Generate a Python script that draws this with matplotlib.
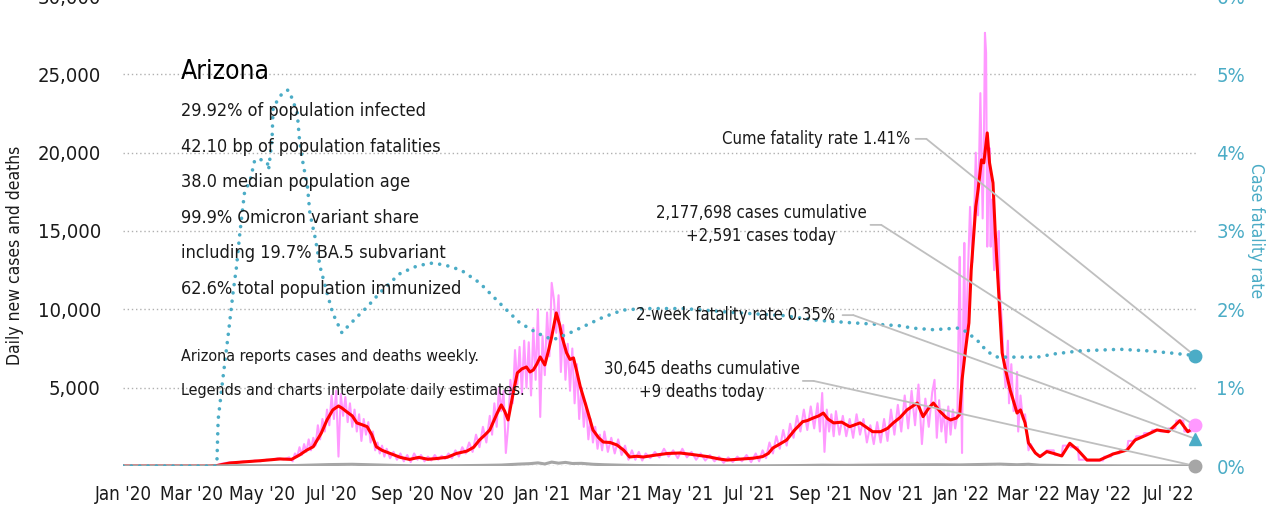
import numpy as np
import matplotlib
matplotlib.use('Agg')
from matplotlib import pyplot as plt
from matplotlib import dates as mdates
from matplotlib import font_manager

# ---- data (day 0 = 2020-01-01) ----
start = np.datetime64('2020-01-01')

red_days = [0, 75, 82, 93, 105, 120, 137, 147, 154, 160, 166, 173, 178, 183, 188, 191, 195, 200,
            204, 208, 213, 217, 221, 226, 233, 242, 250, 258, 266, 274, 283, 291, 300, 306, 311,
            316, 320, 326, 330, 333, 336, 340, 344, 348, 352, 355, 358, 361, 364, 368, 371, 374,
            378, 381, 383, 387, 390, 393, 396, 399, 405, 410, 415, 419, 425, 431, 437, 442, 448,
            454, 465, 475, 486, 495, 510, 520, 527, 540, 550, 558, 563, 567, 573, 579, 586, 593,
            597, 602, 607, 611, 615, 620, 627, 634, 643, 648, 654, 661, 667, 672, 678, 684, 693,
            698, 703, 707, 713, 718, 722, 727, 730, 732, 735, 738, 740, 744, 746, 749, 751, 754,
            756, 759, 761, 764, 767, 770, 774, 780, 783, 787, 790, 796, 800, 806, 812, 819, 826,
            833, 841, 852, 864, 876, 883, 893, 902, 912, 922, 929, 935]
red_vals = [0, 0, 30, 190, 260, 340, 450, 420, 700, 1000, 1230, 2100, 2940, 3580, 3830, 3700, 3470,
            3200, 2750, 2650, 2510, 2000, 1230, 1000, 800, 550, 420, 550, 430, 480, 560, 800, 950,
            1200, 1660, 2000, 2300, 3300, 3900, 3500, 2940, 4500, 5940, 6200, 6320, 6000, 6130,
            6500, 6960, 6450, 7300, 8240, 9770, 9000, 8240, 7220, 6800, 6900, 6000, 5050, 3580,
            2300, 1800, 1530, 1500, 1340, 1000, 575, 620, 575, 700, 800, 830, 750, 600, 450, 380,
            450, 500, 600, 800, 1150, 1400, 1660, 2300, 2830, 2900, 3060, 3200, 3380, 3000, 2750,
            2800, 2510, 2750, 2500, 2190, 2190, 2400, 2750, 3100, 3580, 4020, 3150, 3700, 4020,
            3470, 3100, 2940, 3060, 3300, 5490, 7400, 9130, 12500, 16560, 17630, 19540, 19350,
            21260, 19350, 18070, 14880, 11050, 7220, 6130, 4850, 3380, 3580, 2750, 1470, 830, 600,
            920, 800, 640, 1450, 1020, 380, 380, 770, 1020, 1660, 1980, 2300, 2190, 2890, 2190, 2510]

pink_days = [0, 80, 82, 86, 90, 95, 100, 105, 110, 115, 120, 125, 130, 135, 140, 145, 148, 150, 152,
             154, 156, 158, 160, 162, 164, 166, 168, 170, 172, 174, 176, 178, 180, 182, 184, 186,
             188, 190, 192, 194, 196, 198, 200, 202, 204, 206, 208, 210, 212, 214, 216, 218, 220,
             222, 224, 226, 228, 230, 233, 236, 239, 242, 245, 248, 251, 254, 257, 260, 263, 266,
             269, 272, 275, 278, 281, 284, 287, 290, 293, 296, 299, 302, 305, 308, 311, 314, 317,
             320, 322, 324, 326, 328, 330, 332, 334, 336, 338, 340, 342, 344, 346, 348, 350, 352,
             354, 356, 358, 360, 362, 364, 366, 368, 370, 372, 374, 376, 378, 380, 382, 384, 386,
             388, 390, 392, 394, 396, 398, 400, 402, 404, 406, 408, 410, 412, 414, 416, 418, 420,
             423, 426, 429, 432, 435, 438, 441, 444, 447, 450, 453, 456, 460, 464, 468, 472, 476,
             480, 484, 488, 492, 496, 500, 504, 508, 512, 516, 520, 524, 528, 532, 536, 540, 544,
             548, 552, 555, 558, 561, 564, 567, 570, 573, 576, 579, 582, 585, 588, 591, 594, 597,
             600, 603, 606, 608, 610, 612, 614, 616, 618, 620, 622, 625, 628, 631, 634, 637, 640,
             643, 646, 649, 652, 655, 658, 661, 664, 667, 670, 673, 676, 679, 682, 685, 688, 691,
             694, 697, 700, 703, 706, 708, 710, 712, 714, 716, 718, 720, 722, 724, 726, 728, 729,
             730, 731, 732, 733, 734, 735, 737, 739, 741, 743, 744, 746, 748, 750, 751, 752, 753,
             754, 755, 756, 757, 758, 760, 762, 763, 764, 765, 767, 768, 770, 772, 773, 775, 777,
             779, 780, 781, 783, 785, 787, 789, 790, 792, 795, 798, 800, 806, 812, 813, 819, 820,
             826, 827, 833, 834, 840, 841, 855, 856, 862, 863, 869, 870, 876, 877, 883, 884, 890,
             891, 897, 898, 904, 905, 911, 912, 918, 919, 925, 926, 932, 933, 935]
pink_vals = [0, 0, 50, 150, 200, 250, 230, 300, 250, 350, 300, 400, 380, 500, 420, 550, 300, 800,
             600, 1200, 700, 1400, 900, 1700, 1000, 1800, 1300, 2600, 1700, 3000, 2200, 3600, 2600,
             4500, 3000, 4800, 600, 4600, 3200, 4400, 2800, 4000, 2500, 3600, 2200, 3300, 1600,
             3000, 2000, 2800, 1500, 2200, 1000, 1500, 800, 1300, 600, 1100, 500, 900, 400, 800,
             300, 700, 250, 800, 400, 700, 300, 600, 350, 700, 400, 650, 450, 800, 500, 1000, 600,
             1200, 800, 1500, 900, 2000, 1200, 2500, 1500, 3200, 2000, 4000, 2500, 5000, 3500,
             4800, 830, 2500, 5500, 4000, 7400, 5200, 7600, 4600, 8000, 5000, 7900, 4500, 8800,
             5500, 10000, 3130, 8300, 5800, 9800, 7000, 11690, 10600, 8500, 10900, 6000, 9000,
             5500, 7800, 4800, 7500, 4000, 6500, 3000, 5000, 2500, 4000, 1700, 3000, 1500, 2500,
             1100, 2000, 1000, 2200, 900, 1800, 800, 1700, 700, 1300, 400, 1000, 400, 900, 350,
             800, 500, 900, 550, 1100, 600, 1000, 500, 1100, 550, 900, 400, 800, 350, 700, 300,
             600, 200, 550, 250, 600, 300, 700, 250, 800, 300, 1000, 500, 1500, 800, 1900, 1100,
             2300, 1300, 2700, 1800, 3200, 2200, 3600, 2300, 3800, 2400, 4000, 2200, 4660, 900,
             3600, 2200, 3300, 1900, 3500, 2000, 3200, 1900, 3000, 1800, 3300, 2000, 3000, 1500,
             2600, 1400, 2800, 1500, 3000, 1600, 3600, 2000, 3900, 2200, 4500, 2400, 4800, 2600,
             5200, 1400, 4300, 2500, 4700, 5500, 1800, 4200, 2200, 3600, 1500, 3800, 2000, 3600,
             2400, 3300, 9000, 13350, 6000, 830, 9000, 14240, 7000, 12000, 16540, 13000, 17000,
             20000, 16000, 23800, 15800, 20000, 27650, 26370, 14000, 18000, 20300, 14000, 17000,
             12500, 14500, 12000, 15000, 11000, 9000, 7000, 5000, 8000, 4000, 6500, 3500, 3800,
             6000, 2200, 4500, 3000, 3300, 1800, 1000, 1400, 900, 700, 600, 1000, 1000, 700, 700,
             1300, 1300, 1200, 1200, 400, 400, 350, 350, 600, 600, 800, 800, 1000, 1000, 1600, 1600,
             1900, 1900, 2100, 2100, 2300, 2300, 2200, 2200, 2400, 2400, 2900, 2900, 2200, 2200,
             2600, 2600]

death_days = [0, 75, 85, 100, 120, 150, 165, 180, 190, 200, 210, 220, 235, 250, 270, 290, 310, 330,
              345, 355, 362, 368, 374, 380, 386, 392, 400, 410, 420, 435, 450, 480, 520, 560, 590,
              610, 630, 660, 690, 710, 730, 750, 765, 780, 790, 800, 830, 870, 935]
death_vals = [0, 0, 10, 25, 20, 30, 60, 90, 100, 110, 90, 70, 40, 20, 15, 20, 35, 60, 120, 150,
              200, 130, 250, 180, 230, 160, 170, 110, 80, 50, 30, 15, 10, 15, 30, 50, 40, 60, 70,
              80, 70, 100, 120, 80, 110, 50, 20, 10, 9]

cfr_days = [0, 81, 82, 83, 87, 92, 96, 99, 102, 106, 111, 115, 121, 126, 127, 130, 131, 135, 139,
            144, 147, 152, 154, 157, 161, 163, 168, 172, 178, 183, 191, 196, 204, 213, 224, 236,
            242, 256, 268, 280, 295, 311, 332, 346, 361, 375, 390, 419, 436, 454, 489, 532, 576,
            606, 634, 678, 689, 707, 728, 733, 745, 754, 763, 777, 798, 812, 835, 870, 894, 916,
            935]
cfr_vals = [0.0, 0.0, 0.08, 0.59, 1.10, 1.70, 2.21, 2.54, 2.98, 3.49, 3.65, 3.91, 3.91, 3.87, 3.78,
            4.16, 4.58, 4.67, 4.76, 4.80, 4.71, 4.51, 4.16, 3.87, 3.56, 3.23, 2.89, 2.54, 2.21,
            1.95, 1.70, 1.78, 1.90, 2.03, 2.21, 2.38, 2.46, 2.55, 2.59, 2.57, 2.50, 2.34, 2.03,
            1.83, 1.70, 1.61, 1.70, 1.90, 1.99, 2.01, 2.01, 1.96, 1.92, 1.86, 1.83, 1.79, 1.76,
            1.74, 1.76, 1.74, 1.61, 1.46, 1.39, 1.39, 1.39, 1.43, 1.47, 1.49, 1.47, 1.44, 1.41]

cases_today = 2591
deaths_today = 9
cume_cfr = 1.41
twoweek_cfr = 0.35

stats = ['29.92% of population infected',
         '42.10 bp of population fatalities',
         '38.0 median population age',
         '99.9% Omicron variant share',
         'including 19.7% BA.5 subvariant',
         '62.6% total population immunized']
notes = ['Arizona reports cases and deaths weekly.',
         'Legends and charts interpolate daily estimates.']

# ---- font: the original uses a condensed face, take one if it is installed ----
narrow = None
for f in font_manager.fontManager.ttflist:
    is_narrow = (f.stretch in ('condensed', 'semi-condensed', 'extra-condensed')
                 or 'Narrow' in f.name or 'Condensed' in f.name)
    if is_narrow and f.style == 'normal' and f.weight in (400, 'normal', 'regular'):
        narrow = f
        if 'Liberation' in f.name or 'DejaVu' in f.name:
            break

if narrow is not None:
    plt.rcParams['font.family'] = [narrow.name, 'DejaVu Sans']
    plt.rcParams['font.stretch'] = narrow.stretch
    K = 1.0
else:
    plt.rcParams['font.family'] = ['Liberation Sans', 'DejaVu Sans']
    K = 0.9

PINK = '#ff99ff'
RED = '#ff0000'
CYAN = '#4bacc6'
GREY = '#a6a6a6'
LINEC = '#bfbfbf'
TXT = '#1a1a1a'


def dates(d):
    return start + np.array(d).astype('timedelta64[D]')


last = dates([935])[0]

fig = plt.figure(figsize=(12.81, 5.08), dpi=100)
ax = fig.add_axes([123 / 1281, 42 / 508, 1074 / 1281, 470 / 508])
ax2 = ax.twinx()

ax.plot(dates(pink_days), pink_vals, color=PINK, lw=1.5, zorder=2)
ax.plot(dates(red_days), red_vals, color=RED, lw=2.2, zorder=3)
ax.plot(dates(death_days), death_vals, color=GREY, lw=2.2, zorder=3)
ax2.plot(dates(cfr_days), cfr_vals, color=CYAN, lw=2.6,
         linestyle=(0, (0.01, 2.3)), dash_capstyle='round', zorder=3)

ax.plot([last], [cases_today], 'o', color=PINK, ms=9, zorder=5, clip_on=False)
ax.plot([last], [deaths_today], 'o', color=GREY, ms=9, zorder=5, clip_on=False)
ax2.plot([last], [cume_cfr], 'o', color=CYAN, ms=9, zorder=5, clip_on=False)
ax2.plot([last], [twoweek_cfr], '^', color=CYAN, ms=9, zorder=5, clip_on=False)

ax.set_xlim(start, start + np.timedelta64(937, 'D'))
ax.set_ylim(0, 30000)
ax2.set_ylim(0, 6)
ax.set_yticks(range(0, 30001, 5000))
ax.set_yticklabels([''] + ['{:,}'.format(v) for v in range(5000, 30001, 5000)])
ax2.set_yticks(range(0, 7))
ax2.set_yticklabels(['{}%'.format(v) for v in range(0, 7)])

ax.xaxis.set_major_locator(mdates.MonthLocator(bymonth=(1, 3, 5, 7, 9, 11)))
ax.xaxis.set_major_formatter(mdates.DateFormatter("%b '%y"))

ax.grid(axis='y', color='#b0b0b0', linestyle=(0, (1, 2)), lw=1)
for a in (ax, ax2):
    for s in a.spines.values():
        s.set_visible(False)
ax.tick_params(axis='x', length=0, labelsize=13.5 * K, colors=TXT, pad=14)
ax.tick_params(axis='y', length=0, labelsize=14.5 * K, colors=TXT, pad=16)
ax2.tick_params(axis='y', length=0, labelsize=14.5 * K, colors=CYAN, pad=14)

ax.set_ylabel('Daily new cases and deaths', fontsize=12.5 * K, color=TXT)
ax.yaxis.set_label_coords(-0.092, 0.449)
ax2.set_ylabel('Case fatality rate', fontsize=12.5 * K, color=CYAN, rotation=270, labelpad=14)

# ---- text block ----
tr = ax2.transAxes
ax2.text(0.054, 0.838, 'Arizona', fontsize=19 * K, color='black', transform=tr, va='center')
for i, s in enumerate(stats):
    ax2.text(0.054, 0.755 - i * 0.0755, s, fontsize=13 * K, color=TXT, transform=tr, va='center')
for i, s in enumerate(notes):
    ax2.text(0.054, 0.232 - i * 0.072, s, fontsize=11.5 * K, color=TXT, transform=tr, va='center')


# ---- callouts ----
def callout(axis, label, tx, ty, ha, lx, target):
    axis.text(tx, ty, label, fontsize=12 * K, color=TXT, transform=tr, ha=ha, va='center',
              multialignment='center', linespacing=1.35)
    kw = dict(arrowstyle='-', color=LINEC, lw=1.3, shrinkA=0, shrinkB=0)
    axis.annotate('', xy=(lx + 0.01, ty), xycoords='axes fraction',
                  xytext=(lx, ty), textcoords='axes fraction', arrowprops=kw)
    axis.annotate('', xy=target, xycoords='data',
                  xytext=(lx + 0.01, ty), textcoords='axes fraction', arrowprops=kw)


callout(ax2, 'Cume fatality rate {:.2f}%'.format(cume_cfr), 0.733, 0.696, 'right', 0.738,
        (last, cume_cfr))
callout(ax, '2,177,698 cases cumulative\n+{:,} cases today'.format(cases_today), 0.594, 0.513,
        'center', 0.696, (last, cases_today))
callout(ax2, '2-week fatality rate {:.2f}%'.format(twoweek_cfr), 0.663, 0.321, 'right', 0.670,
        (last, twoweek_cfr))
callout(ax, '30,645 deaths cumulative\n+{} deaths today'.format(deaths_today), 0.539, 0.181,
        'center', 0.633, (last, deaths_today))

fig.savefig('out.png', dpi=100)
